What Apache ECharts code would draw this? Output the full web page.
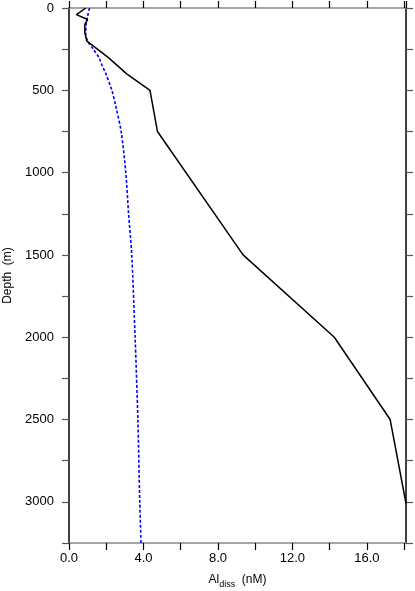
<!DOCTYPE html>
<html>
<head>
<meta charset="utf-8">
<script src="https://cdn.jsdelivr.net/npm/echarts@6/dist/echarts.min.js"></script>
<style>html,body{margin:0;padding:0;background:#fff}#c{width:415px;height:591px}</style>
</head>
<body>
<div id="c"></div>
<script>
// Observed profile (black solid)
const obsDepth = [0, 40, 70, 100, 150, 200, 300, 400, 500, 750, 1500, 2000, 2500, 3010];
const obsAl    = [0.9, 0.4, 1.0, 0.85, 0.85, 0.95, 2.1, 3.1, 4.35, 4.75, 9.35, 14.25, 17.25, 18.1];
// Model profile (blue dashed)
const modDepth = [0, 50, 100, 150, 200, 250, 300, 350, 400, 500, 600, 750, 1000, 1250, 1500, 2000, 2500, 3000, 3250];
const modAl    = [1.1, 1.0, 0.92, 0.9, 1.0, 1.3, 1.6, 1.78, 1.98, 2.3, 2.52, 2.8, 3.05, 3.2, 3.37, 3.55, 3.7, 3.8, 3.87];
const xTickLabels = ['0.0', '4.0', '8.0', '12.0', '16.0'];
const yTickLabels = ['0', '500', '1000', '1500', '2000', '2500', '3000'];

const FONT = 'Liberation Sans';
const chart = echarts.init(document.getElementById('c'));
const gray = '#888888';
const xAxisCommon = {
  type: 'value', min: 0, max: 18.1, interval: 2,
  axisLine: { show: true, onZero: false, lineStyle: { color: gray, width: 1.5 } },
  axisTick: { show: true, inside: false, length: 7, lineStyle: { color: '#000', width: 1.2 } },
  splitLine: { show: false }
};
const yAxisCommon = {
  type: 'value', min: 0, max: 3250, interval: 250, inverse: true,
  axisLine: { show: true, onZero: false, lineStyle: { color: '#000', width: 1.5 } },
  axisTick: { show: true, inside: false, length: 7, lineStyle: { color: '#555', width: 1.2 } },
  splitLine: { show: false }
};
chart.setOption({
  animation: false,
  backgroundColor: '#fff',
  grid: { left: 69, right: 9, top: 8, bottom: 48, containLabel: false, outerBoundsMode: 'none' },
  xAxis: [
    Object.assign({}, xAxisCommon, {
      position: 'bottom',
      name: '{a|Al}{b|diss}{a|  (nM)}',
      nameLocation: 'middle', nameGap: 27,
      nameTextStyle: {
        rich: {
          a: { fontFamily: FONT, fontSize: 12, color: '#000', lineHeight: 16, verticalAlign: 'bottom' },
          b: { fontFamily: FONT, fontSize: 9, color: '#000', lineHeight: 16, verticalAlign: 'bottom', padding: [0, 0, -3, 0] }
        }
      },
      axisLabel: {
        show: true, margin: 9, fontFamily: FONT, fontSize: 13, color: '#000',
        showMaxLabel: false,
        formatter: function (v) {
          const i = xTickLabels.indexOf(Number(v).toFixed(1));
          return i >= 0 ? xTickLabels[i] : '';
        }
      }
    }),
    Object.assign({}, xAxisCommon, { position: 'top', axisLabel: { show: false } })
  ],
  yAxis: [
    Object.assign({}, yAxisCommon, {
      position: 'left',
      name: 'Depth  (m)', nameLocation: 'middle', nameGap: 54, nameRotate: 90,
      nameTextStyle: { fontFamily: FONT, fontSize: 12, color: '#000' },
      axisLabel: {
        show: true, margin: 15, fontFamily: FONT, fontSize: 13, color: '#000',
        formatter: function (v) {
          const s = String(Math.round(v));
          return yTickLabels.indexOf(s) >= 0 ? s : '';
        }
      }
    }),
    Object.assign({}, yAxisCommon, { position: 'right', axisLabel: { show: false } })
  ],
  series: [
    {
      type: 'line', xAxisIndex: 0, yAxisIndex: 0, symbol: 'none',
      data: obsAl.map((a, i) => [a, obsDepth[i]]),
      lineStyle: { color: '#000', width: 1.5 }, z: 3
    },
    {
      type: 'line', xAxisIndex: 0, yAxisIndex: 0, symbol: 'none', smooth: 0.3,
      data: modAl.map((a, i) => [a, modDepth[i]]),
      lineStyle: { color: '#0000ff', width: 1.6, type: [3, 2] }, z: 2
    }
  ]
});
</script>
</body>
</html>
